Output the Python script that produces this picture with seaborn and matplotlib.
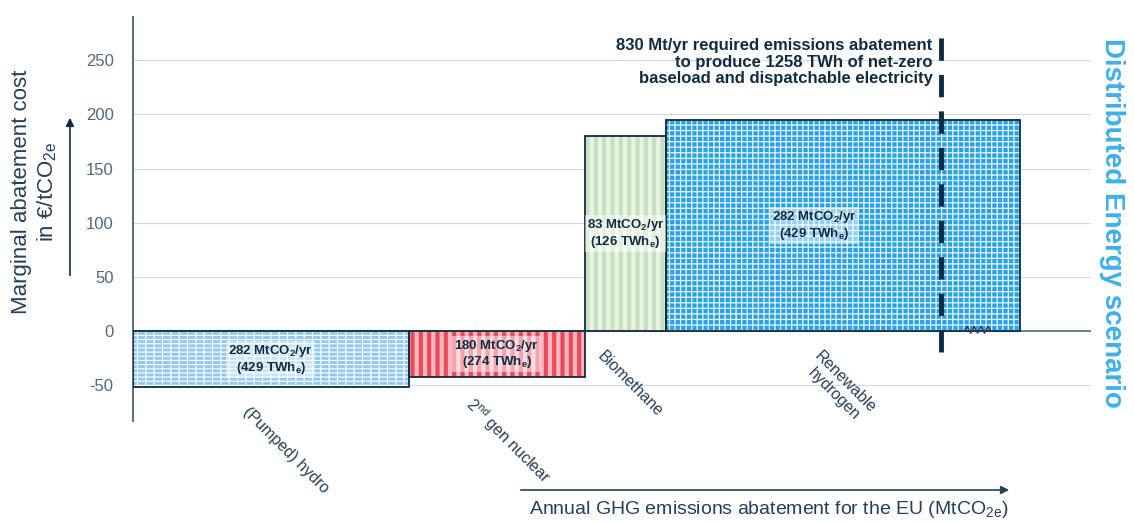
import numpy as np
import seaborn as sns
import matplotlib
import matplotlib.pyplot as plt

# abatement cost curve, distributed energy scenario
technologies = ['(Pumped) hydro', '2$^{\\mathrm{nd}}$ gen nuclear', 'Biomethane', 'Renewable\nhydrogen']
abatement = [282, 180, 83, 282]        # MtCO2/yr
energy = [429, 274, 126, 429]          # TWh_e
cost = [-52, -42, 180, 195]            # EUR/tCO2e
drawn_width = [282, 180, 83, 362]      # hydrogen drawn past the requirement (axis break)
required_mt = 830
required_twh = 1258

sns.set_theme(style='whitegrid')
plt.rcParams['font.family'] = ['Liberation Sans', 'DejaVu Sans']
plt.rcParams['axes.unicode_minus'] = False
plt.rcParams['mathtext.fontset'] = 'custom'
plt.rcParams['mathtext.rm'] = 'Liberation Sans'
plt.rcParams['mathtext.it'] = 'Liberation Sans:italic'
plt.rcParams['mathtext.bf'] = 'Liberation Sans:bold'

navy = '#0e2c44'
slate = '#24405a'
tickcol = '#4f6880'
faces = ['#92c9ef', '#f8b9c0', '#e9f4e5', '#27a2ea']
hatch_cols = ['white', '#f0485b', '#c6e1be', '#eaf6fd']
hatches = ['----||', '||', '||', '+++']
hatch_lws = [0.8, 3.0, 3.0, 0.9]
label_frac = [0.5, 0.5, 0.5, 0.42]

fig = plt.figure(figsize=(11.34, 5.22), dpi=100)
ax = fig.add_axes([133 / 1134, 1 - 421 / 522, (1091 - 133) / 1134, (421 - 17) / 522])

lefts = np.concatenate([[0], np.cumsum(drawn_width)[:-1]])

for i in range(len(technologies)):
    ax.bar(lefts[i], cost[i], width=drawn_width[i], align='edge',
           color=faces[i], linewidth=0, zorder=2)
    with plt.rc_context({'hatch.linewidth': hatch_lws[i]}):
        hb = ax.bar(lefts[i], cost[i], width=drawn_width[i], align='edge',
                    fill=False, hatch=hatches[i], edgecolor=hatch_cols[i],
                    linewidth=0, zorder=3)
    for p in hb:
        if hasattr(p, 'set_hatch_linewidth'):
            p.set_hatch_linewidth(hatch_lws[i])
    ax.bar(lefts[i], cost[i], width=drawn_width[i], align='edge',
           fill=False, edgecolor=navy, linewidth=1.3, zorder=4)

    # volume label inside the bar
    ax.text(lefts[i] + label_frac[i] * drawn_width[i], cost[i] / 2,
            f'{abatement[i]} MtCO$_\\mathbf{{2}}$/yr\n({energy[i]} TWh$_\\mathbf{{e}}$)',
            ha='center', va='center', fontsize=9.5, fontweight='bold', color=navy,
            linespacing=1.05, zorder=7,
            bbox=dict(boxstyle='square,pad=0.15', fc='white', ec='none', alpha=0.5))

    # technology name under the bar
    ax.annotate(technologies[i], xy=(lefts[i] + drawn_width[i] / 2, min(cost[i], 0)),
                xytext=(-20, -17), textcoords='offset pixels',
                rotation=-45, rotation_mode='anchor', ha='left', va='top',
                multialignment='center', fontsize=11.5, color=slate,
                annotation_clip=False)

# zero line and axis break on the hydrogen bar
ax.axhline(0, color='#5d7285', lw=1.3, zorder=1)
zig_x = np.linspace(850, 878, 9)
zig_y = np.array([0, 4.5, -2, 4.5, -2, 4.5, -2, 4.5, 0])
ax.plot(zig_x, zig_y, color=slate, lw=1.0, zorder=5)

# requirement line
req = sum(abatement)
ax.axvline(req, ymin=0.17, ymax=0.955, color=navy, lw=3.5, dashes=(4.6, 2.9), zorder=6)
ax.annotate(f'{required_mt} Mt/yr required emissions abatement\n'
            f'to produce {required_twh} TWh of net-zero\n'
            'baseload and dispatchable electricity',
            xy=(req, 1), xycoords=('data', 'axes fraction'),
            xytext=(-9, -45), textcoords='offset pixels',
            ha='right', va='center', multialignment='right',
            fontsize=12, fontweight='bold', color=navy, linespacing=1.15)

ax.set_xlim(0, 980)
ax.set_ylim(-83, 290)
ax.set_yticks([-50, 0, 50, 100, 150, 200, 250])
ax.set_xticks([])
ax.tick_params(axis='y', length=0, pad=14, labelsize=12, labelcolor=tickcol)
ax.yaxis.grid(True, color='#d6d9dc', lw=0.8)
ax.xaxis.grid(False)
ax.set_axisbelow(True)
sns.despine(ax=ax, top=True, right=True, bottom=True, left=False)
ax.spines['left'].set_color('#5d7285')
ax.spines['left'].set_linewidth(1.5)

# axis titles with arrows
fig.text(35 / 1134, 0.632, 'Marginal abatement cost\nin €/tCO$_{\\mathrm{2e}}$',
         rotation=90, ha='center', va='center', multialignment='center',
         fontsize=16, color=slate, linespacing=1.2)
ax.annotate('', xy=(0.0617, 0.7797), xytext=(0.0617, 0.4674),
            xycoords='figure fraction', textcoords='figure fraction',
            arrowprops=dict(arrowstyle='-|>', color=navy, lw=1.2, mutation_scale=12))
fig.text(0.6776, 0.023, 'Annual GHG emissions abatement for the EU (MtCO$_{\\mathrm{2e}}$)',
         ha='center', va='center', fontsize=14, color=slate)
ax.annotate('', xy=(0.8924, 0.0613), xytext=(0.4568, 0.0613),
            xycoords='figure fraction', textcoords='figure fraction',
            arrowprops=dict(arrowstyle='-|>', color=slate, lw=1.2, mutation_scale=12))

fig.text(0.9806, 0.573, 'Distributed Energy scenario', rotation=-90,
         ha='center', va='center', fontsize=20, fontweight='bold', color='#3db0ec')

fig.savefig('out.png', dpi=100)
